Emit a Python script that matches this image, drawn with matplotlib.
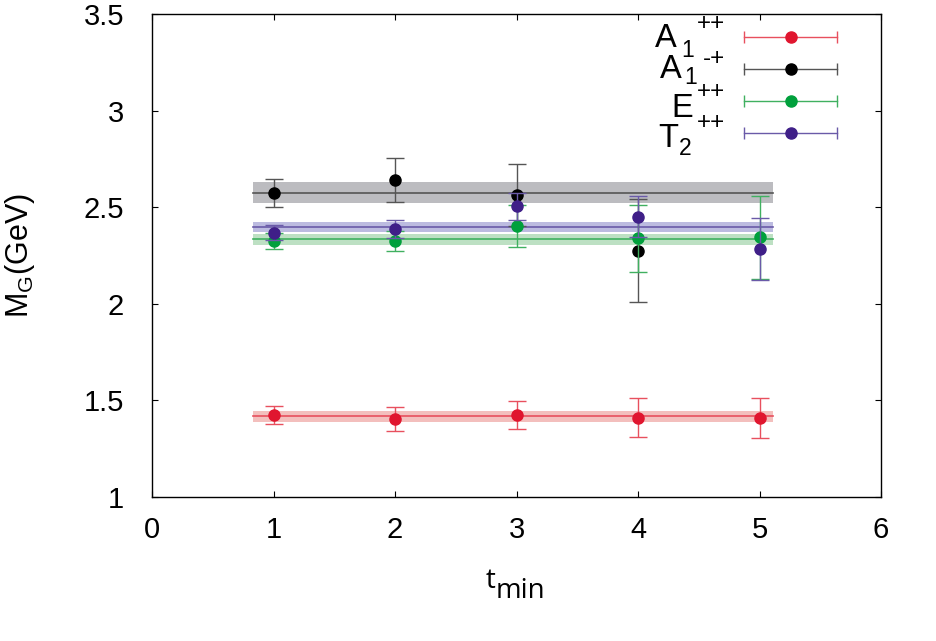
import matplotlib
matplotlib.use("Agg")
import matplotlib.pyplot as plt
import numpy as np

plt.rcParams['font.family'] = ['Liberation Sans', 'DejaVu Sans']
plt.rcParams['mathtext.fontset'] = 'custom'
plt.rcParams['mathtext.rm'] = 'Liberation Sans'
plt.rcParams['mathtext.it'] = 'Liberation Sans'
plt.rcParams['mathtext.bf'] = 'Liberation Sans'

# Data
# legend label pieces: (base, subscript, superscript)
label_base = ['A', 'A', 'E', 'T']
label_sub = ['1', '1', '', '2']
label_sup = ['++', '-+', '++', '++']
colors = ['#e0162f', '#000000', '#00a03c', '#3f1f88']
band_colors = ['#f3bfbd', '#bcbcc0', '#bde0c3', '#bcbbe0']
line_colors = ['#e8505e', '#555555', '#40b060', '#6a5aa8']

t_A1pp = [1, 2, 3, 4, 5]
m_A1pp = [1.426, 1.404, 1.424, 1.410, 1.410]
e_A1pp = [0.046, 0.062, 0.073, 0.100, 0.103]

t_A1mp = [1, 2, 3, 4]
m_A1mp = [2.572, 2.641, 2.563, 2.275]
e_A1mp = [0.073, 0.115, 0.160, 0.265]

t_E = [1, 2, 3, 4, 5]
m_E = [2.325, 2.327, 2.402, 2.340, 2.344]
e_E = [0.043, 0.052, 0.108, 0.173, 0.214]

t_T2 = [1, 2, 3, 4, 5]
m_T2 = [2.368, 2.386, 2.505, 2.451, 2.282]
e_T2 = [0.038, 0.047, 0.070, 0.107, 0.160]

fit_center = [1.417, 2.575, 2.333, 2.396]
fit_err = [0.029, 0.055, 0.030, 0.026]
fit_range = [0.83, 5.11]

series = [(t_A1pp, m_A1pp, e_A1pp), (t_A1mp, m_A1mp, e_A1mp),
          (t_E, m_E, e_E), (t_T2, m_T2, e_T2)]

W, H = 936, 641
fig = plt.figure(figsize=(W/100, H/100), dpi=100)
L, R, T, B = 152, 881, 14, 497
ax = fig.add_axes([L/W, 1-B/H, (R-L)/W, (B-T)/H])

for i in range(4):
    c, e = fit_center[i], fit_err[i]
    ax.fill_between(fit_range, [c-e]*2, [c+e]*2, color=band_colors[i], lw=0, zorder=1)
    ax.plot(fit_range, [c]*2, color=line_colors[i], lw=1.2, zorder=2)

for i, (t, m, e) in enumerate(series):
    ax.errorbar(t, m, yerr=e, fmt='o', color=colors[i], mec=colors[i], ecolor=line_colors[i],
                elinewidth=1.0, capsize=6.8, capthick=1.0, markersize=8,
                zorder=3+i)

ax.set_xlim(0, 6)
ax.set_ylim(1, 3.5)
ax.set_xticks([0, 1, 2, 3, 4, 5, 6])
ax.set_yticks([1, 1.5, 2, 2.5, 3, 3.5])
ax.set_yticklabels(['1', '1.5', '2', '2.5', '3', '3.5'])
ax.tick_params(direction='in', top=True, right=True, labelsize=21, length=4, width=0.8)
ax.tick_params(axis='y', pad=20)
ax.tick_params(axis='x', pad=14)
for s in ax.spines.values():
    s.set_linewidth(1.0)

def px(x, y):
    return x / W, 1 - y / H

# x label (t_min)
fig.text(*px(486, 588), 't', fontsize=20, family='Open Sans', ha='left', va='baseline')
fig.text(*px(496, 598), 'min', fontsize=20, family='Open Sans', ha='left', va='baseline')

# y label
ax.set_ylabel(r'$\mathrm{M}_\mathrm{G}\mathrm{(GeV)}$', fontsize=22)
ax.yaxis.set_label_coords(-0.158, 0.5)

# legend (manual, gnuplot style)
rows = [37, 69, 101, 133]
base_pos = [(655, 47), (660, 78), (671, 117), (658, 147)]
sub_pos = [(681, 57), (684, 84), (0, 0), (679, 155)]
sup_base = [29.5, 65, 98, 129.5]
for i in range(4):
    y = rows[i]
    x0, y0 = px(744, y)
    x1, _ = px(837, y)
    xm, _ = px(791, y)
    fig.add_artist(plt.Line2D([x0, x1], [y0, y0], transform=fig.transFigure,
                              color=line_colors[i], lw=1.0, zorder=10))
    fig.add_artist(plt.Line2D([x0, x1], [y0, y0], transform=fig.transFigure, ls='none',
                              marker='|', ms=8, mew=1.0, color=line_colors[i], zorder=10))
    fig.add_artist(plt.Line2D([xm], [y0], transform=fig.transFigure, ls='none', marker='o',
                              ms=8, color=colors[i], mec=colors[i], zorder=11))
    fig.text(*px(*base_pos[i]), label_base[i], fontsize=23.5, ha='left', va='baseline')
    if label_sub[i]:
        fig.text(*px(*sub_pos[i]), label_sub[i], fontsize=16.5, ha='left', va='baseline')
    fig.text(*px(725, sup_base[i]), label_sup[i], fontsize=17.5, ha='right', va='baseline')

fig.savefig('out.png', dpi=100)
